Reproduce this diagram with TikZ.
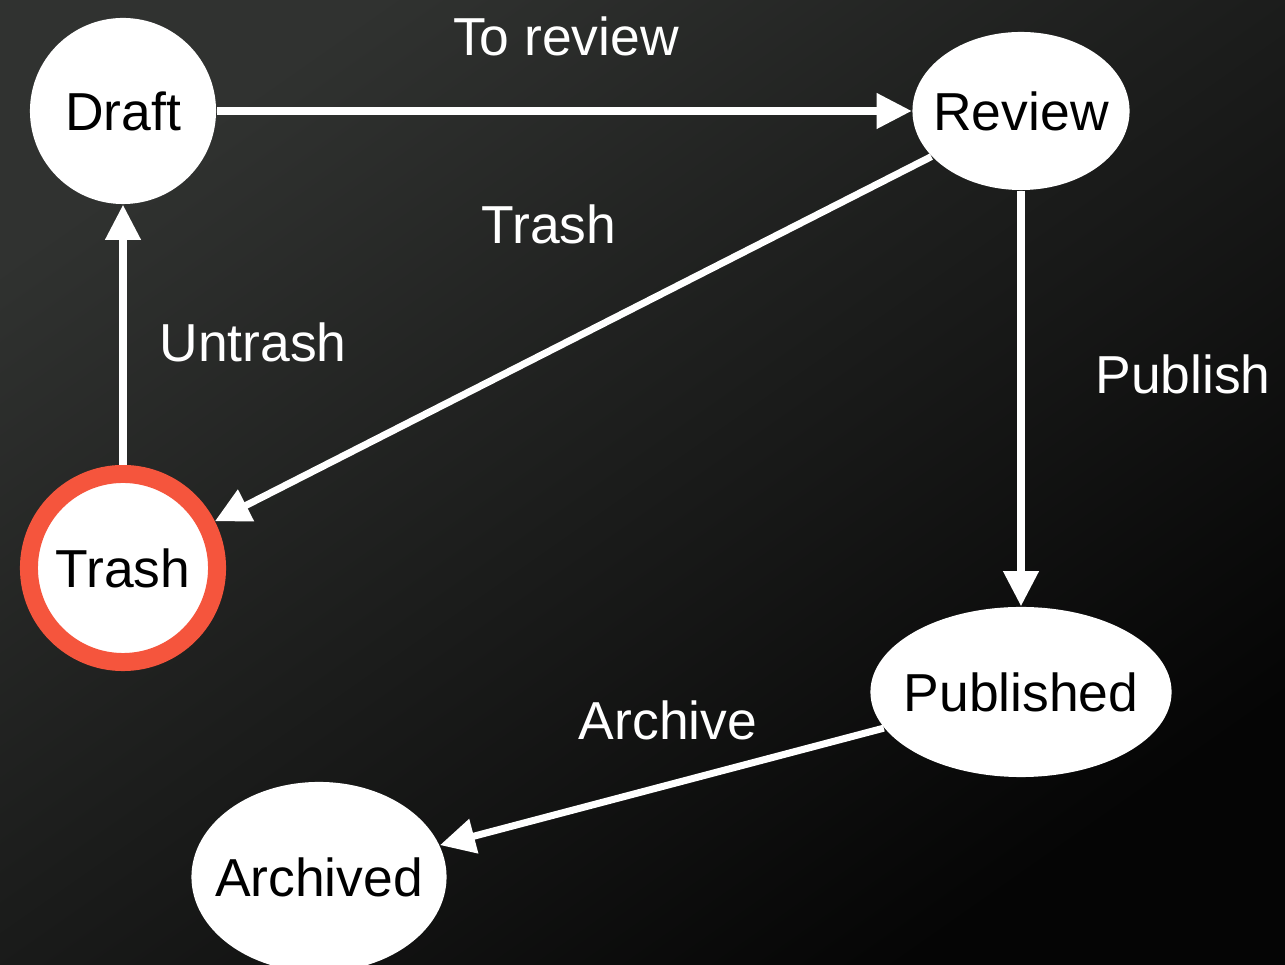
\documentclass[tikz,border=0pt]{standalone}
\usepackage{fontspec}
\setmainfont{Liberation Sans}
\usetikzlibrary{arrows.meta,shapes.geometric}
\definecolor{bgtop}{HTML}{303230}
\definecolor{bgbottom}{HTML}{050505}
\definecolor{trashred}{HTML}{F5553D}
\begin{document}
\begin{tikzpicture}[x=0.01cm, y=-0.01cm,
    state/.style={ ellipse, fill=white, text=black, inner sep=-1cm, font=\fontsize{15.2}{18}\selectfont, },
    trans/.style={ draw=white, line width=2pt, -{Triangle[length=0.35cm, width=0.34cm]}, },
    trans-label/.style={ text=white, font=\fontsize{15.2}{18}\selectfont, } ]
            % Background
            \useasboundingbox (0, 0) rectangle (1285, 965);
            \shade[top color=bgtop, bottom color=bgbottom, shading angle=35] (0, 0) rectangle (1285, 965);

            \node[state, minimum width=1.86cm, minimum height=1.86cm] (D) at (123, 111) {Draft};
            \node[state, minimum width=2.17cm, minimum height=1.58cm] (R) at (1021, 111) {Review};
            \node[state, circle, draw=trashred, line width=0.18cm, minimum size=1.88cm] (T) at (123, 568) {Trash};
            \node[state, minimum width=3.01cm, minimum height=1.70cm] (P) at (1021, 692) {Published};
            \node[state, minimum width=2.55cm, minimum height=1.90cm] (A) at (319, 877) {Archived};

            % Labels
            \node[trans-label] (LR) at (566, 36) {To review};
            \node[trans-label] (LT) at (549, 224) {Trash};
            \node[trans-label] (LP) at (1183, 374) {Publish};
            \node[trans-label] (LU) at (253, 342) {Untrash};
            \node[trans-label] (LA) at (668, 720) {Archive};

            % Edges
            \draw[trans] (D) -- (R);
            \draw[trans] (R) -- (T);
            \draw[trans] (R) -- (P);
            \draw[trans] (T) -- (D);
            \draw[trans] (P) -- (A);
        \end{tikzpicture}
\end{document}
